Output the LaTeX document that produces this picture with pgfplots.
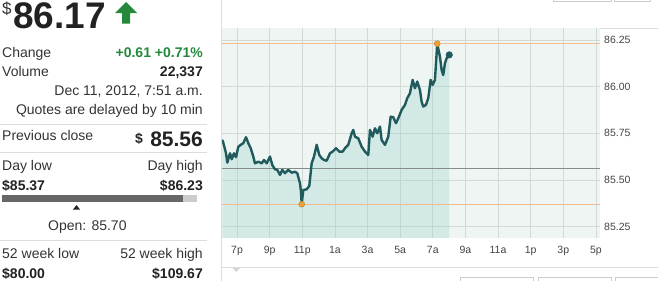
\documentclass[border=0pt]{standalone}
\usepackage{fontspec}
\setmainfont{Liberation Sans}
\usepackage{pgfplots}
\usepackage{pgfplotstable}
\pgfplotsset{compat=1.18}
\definecolor{txt}{HTML}{333333}
\definecolor{val}{HTML}{222222}
\definecolor{grn}{HTML}{24893A}
\definecolor{sep}{HTML}{DDDDDD}
\definecolor{bard}{HTML}{666666}
\definecolor{barl}{HTML}{CCCCCC}
\definecolor{bgc}{HTML}{EEF5F2}
\definecolor{fillc}{HTML}{94CFCC}
\definecolor{linec}{HTML}{1F5A5C}
\definecolor{gridc}{HTML}{D2DAD6}
\definecolor{prevc}{HTML}{838D89}
\definecolor{orl}{HTML}{F2BA8E}
\definecolor{dotc}{HTML}{F0A035}
\definecolor{tickc}{HTML}{444444}
\newcommand{\fs}[1]{\fontsize{#1bp}{#1bp}\selectfont}
\newcommand{\T}[4]{\node[anchor=#3, inner sep=0pt, text=txt] at (#1bp,-#2bp) {#4};}
\pgfplotstableread{
x y
18.124 85.711
18.326 85.643
18.406 85.593
18.571 85.643
18.675 85.611
18.816 85.643
18.939 85.622
19.080 85.678
19.227 85.688
19.386 85.697
19.551 85.729
19.692 85.697
19.839 85.670
19.999 85.625
20.103 85.589
20.305 85.598
20.513 85.589
20.654 85.607
20.820 85.589
21.022 85.625
21.163 85.580
21.328 85.557
21.469 85.554
21.635 85.527
21.776 85.554
21.941 85.536
22.143 85.554
22.352 85.539
22.554 85.544
22.695 85.536
22.860 85.482
22.922 85.437
22.964 85.370
23.063 85.446
23.271 85.450
23.430 85.468
23.577 85.589
23.718 85.625
23.884 85.688
24.043 85.634
24.190 85.616
24.331 85.607
24.496 85.603
24.699 85.643
24.864 85.652
25.066 85.670
25.268 85.652
25.477 85.652
25.618 85.670
25.820 85.688
26.028 85.750
26.126 85.768
26.230 85.732
26.433 85.723
26.641 85.678
26.843 85.652
27.045 85.634
27.150 85.768
27.315 85.732
27.456 85.777
27.597 85.750
27.762 85.786
27.866 85.714
28.069 85.688
28.271 85.732
28.418 85.839
28.577 85.836
28.743 85.804
28.884 85.830
29.092 85.875
29.294 85.902
29.435 85.938
29.600 85.964
29.766 86.036
29.907 85.991
30.048 86.027
30.213 85.982
30.317 85.919
30.415 85.893
30.581 85.902
30.722 85.938
30.869 86.036
30.991 86.009
31.132 86.036
31.273 86.230
31.439 86.160
31.543 86.089
31.641 86.062
31.745 86.125
31.849 86.152
32.009 86.170
}\pricedata
\begin{document}
\begin{tikzpicture}
\path[use as bounding box] (0,0) rectangle (658bp,-281bp);
% ---------- left panel ----------
\node[anchor=base west, inner sep=0pt, text=txt] at (2bp,-14.4bp) {\fs{17}\$};
\node[anchor=base west, inner sep=0pt, text=val] at (13bp,-28bp) {\fs{37}\bfseries 86.17};
\fill[grn] (126bp,-2bp) -- (137bp,-13bp) -- (130bp,-13bp) -- (130bp,-23.5bp) -- (122bp,-23.5bp) -- (122bp,-13bp) -- (115bp,-13bp) -- cycle;
\T{2}{57.5}{base west}{\fs{14}Change}
\node[anchor=base east, inner sep=0pt, text=grn] at (203bp,-57.5bp) {\fs{14}\bfseries +0.61 +0.71\%};
\T{2}{76.7}{base west}{\fs{14}Volume}
\node[anchor=base east, inner sep=0pt, text=val] at (203bp,-76.7bp) {\fs{14}\bfseries 22,337};
\T{203}{95.5}{base east}{\fs{14}Dec 11, 2012, 7:51 a.m.}
\T{203}{114}{base east}{\fs{14}Quotes are delayed by 10 min}
\draw[sep, line width=1bp] (0,-124.5bp) -- (207bp,-124.5bp);
\T{2}{140.5}{base west}{\fs{14}Previous close}
\node[anchor=base west, inner sep=0pt, text=val] at (135bp,-143.3bp) {\fs{14}\bfseries \$};
\node[anchor=base east, inner sep=0pt, text=val] at (203bp,-146.7bp) {\fs{21}\bfseries 85.56};
\draw[sep, line width=1bp] (0,-152bp) -- (207bp,-152bp);
\T{2}{170}{base west}{\fs{14}Day low}
\T{203}{170}{base east}{\fs{14}Day high}
\node[anchor=base west, inner sep=0pt, text=val] at (2bp,-190bp) {\fs{14}\bfseries \$85.37};
\node[anchor=base east, inner sep=0pt, text=val] at (203bp,-190bp) {\fs{14}\bfseries \$86.23};
\fill[bard] (1.5bp,-195bp) rectangle (183bp,-202bp);
\fill[barl] (183bp,-195bp) rectangle (197bp,-202bp);
\fill[val] (73bp,-209.5bp) -- (80bp,-209.5bp) -- (76.5bp,-205bp) -- cycle;
\T{48}{230}{base west}{\fs{14}Open: 85.70}
\draw[sep, line width=1bp] (0,-240bp) -- (207bp,-240bp);
\T{2}{258.3}{base west}{\fs{14}52 week low}
\T{203}{258.3}{base east}{\fs{14}52 week high}
\node[anchor=base west, inner sep=0pt, text=val] at (2bp,-278bp) {\fs{14}\bfseries \$80.00};
\node[anchor=base east, inner sep=0pt, text=val] at (203bp,-278bp) {\fs{14}\bfseries \$109.67};
% ---------- chart frame ----------
\draw[sep, line width=1bp] (221.5bp,0) -- (221.5bp,-281bp);
\draw[sep, line width=1bp] (222bp,-28bp) -- (658bp,-28bp);
\draw[sep, line width=1bp] (222bp,-267bp) -- (658bp,-267bp);
\fill[barl!80] (232.5bp,-268bp) -- (240bp,-268bp) -- (236.2bp,-272bp) -- cycle;
\draw[barl, line width=0.8bp] (460bp,-277bp) rectangle (533bp,-290bp);
\draw[barl, line width=0.8bp] (538bp,-277bp) rectangle (611bp,-290bp);
\draw[barl, line width=0.8bp] (615bp,-277bp) rectangle (670bp,-290bp);
\draw[barl, line width=0.8bp] (553bp,-1bp) rectangle (611bp,8bp);
\draw[barl, line width=0.8bp] (614bp,-1bp) rectangle (650bp,8bp);
\begin{axis}[
  scale only axis, width=378bp, height=210bp,
  at={(222bp,-238bp)}, anchor=south west,
  xmin=18.08, xmax=41.25, ymin=85.189, ymax=86.314,
  axis background/.style={fill=bgc},
  xtick={19,21,...,41},
  xticklabels={7p,9p,11p,1a,3a,5a,7a,9a,11a,1p,3p,5p},
  ytick={85.25,85.5,85.75,86,86.25},
  yticklabels={85.25,85.50,85.75,86.00,86.25},
  yticklabel pos=right,
  grid=major, major grid style={draw=gridc, line width=0.7bp},
  axis line style={draw=none}, major tick style={draw=none},
  xticklabel style={font=\fs{10.5}, text=tickc, anchor=base, yshift=-15bp, inner sep=0pt},
  yticklabel style={font=\fs{10.5}, text=tickc, anchor=west, inner sep=0pt, xshift=4bp},
]
\addplot[draw=none, fill=fillc, fill opacity=0.3] table[x=x,y=y] {\pricedata} \closedcycle;
\addplot[prevc, line width=0.8bp] coordinates {(18.08,85.56) (41.25,85.56)};
\addplot[orl, line width=0.8bp] coordinates {(18.08,86.23) (41.25,86.23)};
\addplot[orl, line width=0.8bp] coordinates {(18.08,85.37) (41.25,85.37)};
\addplot[linec, line width=2.4bp, line join=round, line cap=round] table[x=x,y=y] {\pricedata};
\addplot[only marks, mark=*, mark size=3bp, mark options={fill=dotc, draw=dotc!80!black, line width=0.4bp}] coordinates {(22.964,85.37) (31.273,86.23)};
\addplot[only marks, mark=*, mark size=3.3bp, mark options={fill=linec, draw=linec}] coordinates {(32.009,86.17)};
\end{axis}
\end{tikzpicture}
\end{document}
